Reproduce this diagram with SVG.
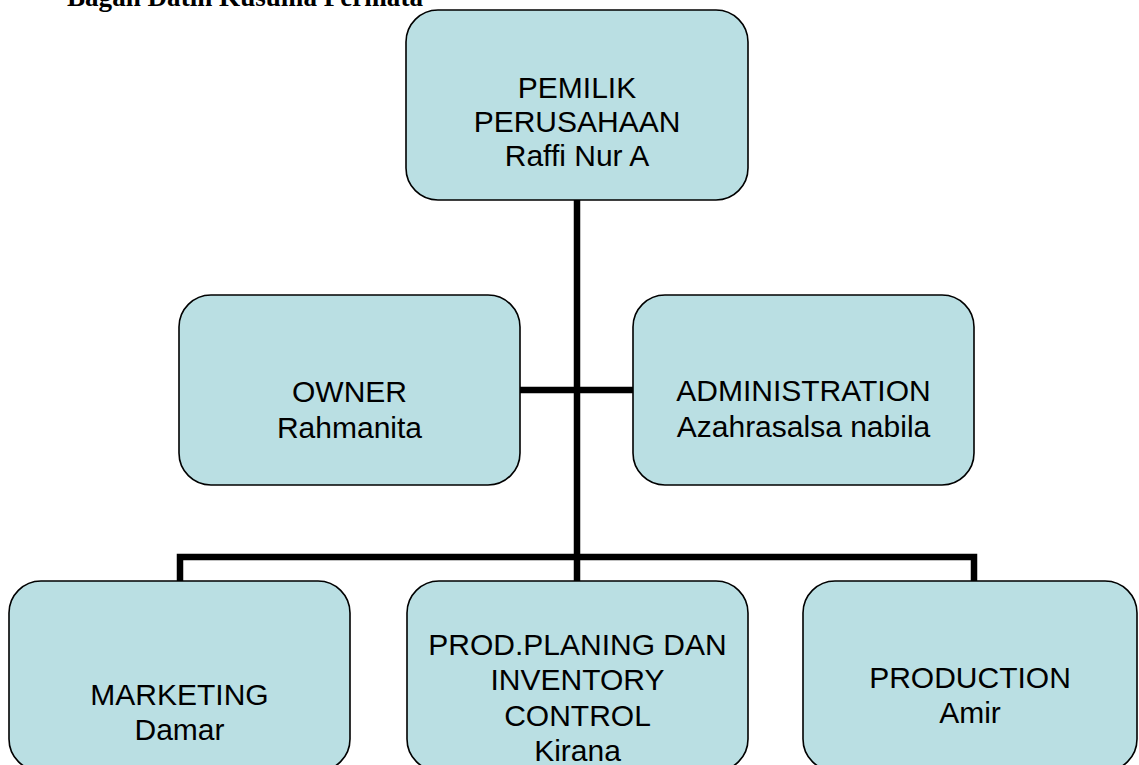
<svg xmlns="http://www.w3.org/2000/svg" width="1139" height="765" viewBox="0 0 1139 765">
<style>
.box{fill:#BADFE3;stroke:#000;stroke-width:1.6}
.lbl{font-family:"Liberation Sans",Arial,sans-serif;font-size:30px;fill:#000;text-anchor:middle}
.title{font-family:"Liberation Serif","Times New Roman",serif;font-weight:bold;font-size:28px;fill:#000}
.conn{fill:none;stroke:#000;stroke-width:6.5;stroke-linejoin:miter;stroke-linecap:butt}
</style>
<rect width="1139" height="765" fill="#fff"/>
<text class="title" x="67" y="6" textLength="356" lengthAdjust="spacingAndGlyphs">Bagan Datin Kusuma Permata</text>
<g id="connectors">
<path class="conn" d="M577,200 V581"/>
<path class="conn" d="M520,390 H633"/>
<path class="conn" d="M180,581 V557 H974 V581"/>
</g>
<g id="pemilik">
<rect class="box" x="406" y="10" width="342" height="190" rx="32"/>
<text class="lbl" x="577" y="98">PEMILIK</text>
<text class="lbl" x="577" y="132">PERUSAHAAN</text>
<text class="lbl" x="577" y="166">Raffi Nur A</text>
</g>
<g id="owner">
<rect class="box" x="179" y="295" width="341" height="190" rx="32"/>
<text class="lbl" x="349.5" y="401.5">OWNER</text>
<text class="lbl" x="349.5" y="437.5">Rahmanita</text>
</g>
<g id="administration">
<rect class="box" x="633" y="295" width="341" height="190" rx="32"/>
<text class="lbl" x="803.5" y="401">ADMINISTRATION</text>
<text class="lbl" x="803.5" y="437">Azahrasalsa nabila</text>
</g>
<g id="marketing">
<rect class="box" x="9" y="581" width="341" height="190" rx="32"/>
<text class="lbl" x="179.5" y="705">MARKETING</text>
<text class="lbl" x="179.5" y="740">Damar</text>
</g>
<g id="ppic">
<rect class="box" x="407" y="581" width="341" height="190" rx="32"/>
<text class="lbl" x="577.5" y="655">PROD.PLANING DAN</text>
<text class="lbl" x="577.5" y="690">INVENTORY</text>
<text class="lbl" x="577.5" y="726">CONTROL</text>
<text class="lbl" x="577.5" y="761">Kirana</text>
</g>
<g id="production">
<rect class="box" x="803" y="581" width="334" height="190" rx="32"/>
<text class="lbl" x="970" y="688">PRODUCTION</text>
<text class="lbl" x="970" y="723">Amir</text>
</g>
</svg>
